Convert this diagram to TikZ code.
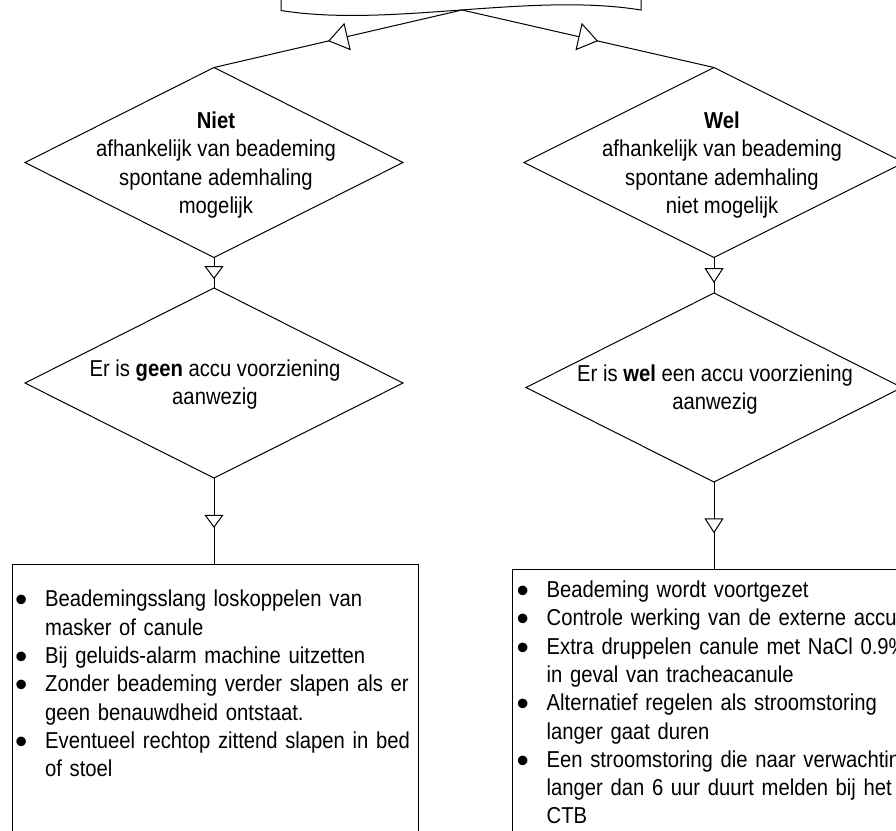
\documentclass[tikz,border=0pt]{standalone}
\usepackage{fontspec}
\setmainfont{Liberation Sans}[FakeStretch=0.88]
\newfontfamily\bulfont{Liberation Sans}
\usetikzlibrary{arrows.meta,decorations.markings,shapes.geometric}
\newcommand{\bul}[1]{\noindent\hangindent=30pt\hangafter=1\makebox[30pt][l]{\bulfont\fontsize{35}{28.3}\selectfont\raisebox{-4.9pt}{•}}#1\par}
\tikzset{
  ln/.style={line width=1pt},
  dia/.style={draw, shape=diamond, minimum width=378pt, minimum height=190pt, inner sep=0pt, outer sep=0pt, line width=1pt},
  boxnode/.style={draw, rectangle, inner sep=0pt, outer sep=0pt, line width=1pt, anchor=north west},
  txt/.style={font=\fontsize{23}{28.3}\selectfont, align=center, inner sep=0pt, anchor=north},
  lst/.style={font=\fontsize{23}{28.3}\selectfont, text width=500pt, align=left, inner sep=0pt, anchor=north west},
  midarrow/.style n args={3}{postaction={decorate}, decoration={markings, mark=at position #1 with {\arrow{Triangle[fill=white,length=#2,width=#3]}}}}
}
\begin{document}
\begin{tikzpicture}[x=1pt,y=-1pt]
\useasboundingbox (0,0) rectangle (896,830);
\clip (0,0) rectangle (896,830);
% document shape at the top
\draw[ln] (281,-30) -- (281,10.5) .. controls (390,28) and (530,-8) .. (641,10) -- (641,-30) -- cycle;
\coordinate (docb) at (462,10);
% diamonds
\node[dia] (n1) at (214,162.5) {};
\node[dia, minimum width=380pt] (w1) at (714,162.5) {};
\node[dia] (n2) at (214,383) {};
\node[dia, minimum width=376pt, minimum height=189pt] (w2) at (714,387.5) {};
% diamond texts
\node[txt] (n1t) at (216,111.8) {\textbf{Niet}\\afhankelijk van beademing\\spontane ademhaling\\mogelijk};
\node[txt] (w1t) at (722,111.8) {\textbf{Wel}\\afhankelijk van beademing\\spontane ademhaling\\niet mogelijk};
\node[txt] (n2t) at (215,359.5) {Er is \textbf{geen} accu voorziening\\aanwezig};
\node[txt] (w2t) at (715,364.2) {Er is \textbf{wel} een accu voorziening\\aanwezig};
% boxes
\node[boxnode, minimum width=406pt, minimum height=300pt] (nb) at (12,564) {};
\node[boxnode, minimum width=404pt, minimum height=300pt] (wb) at (512,569) {};
\node[lst] (nbt) at (15,590) {%
\bul{Beademingsslang loskoppelen van\newline masker of canule}%
\bul{Bij geluids-alarm machine uitzetten}%
\bul{Zonder beademing verder slapen als er\newline geen benauwdheid ontstaat.}%
\bul{Eventueel rechtop zittend slapen in bed\newline of stoel}};
\node[lst] (wbt) at (516.5,580.7) {%
\bul{Beademing wordt voortgezet}%
\bul{Controle werking van de externe accu}%
\bul{Extra druppelen canule met NaCl 0.9\%\newline in geval van tracheacanule}%
\bul{Alternatief regelen als stroomstoring\newline langer gaat duren}%
\bul{Een stroomstoring die naar verwachting\newline langer dan 6 uur duurt melden bij het\newline CTB}};
% connectors
\draw[ln, midarrow={0.54}{20pt}{28pt}] (docb) -- (n1.north);
\draw[ln, midarrow={0.54}{20pt}{28pt}] (docb) -- (w1.north);
\draw[ln, midarrow={0.71}{13pt}{19pt}] (n1.south) -- (n2.north);
\draw[ln, midarrow={0.72}{15pt}{19pt}] (w1.south) -- (w2.north);
\draw[ln, midarrow={0.58}{13pt}{19pt}] (n2.south) -- (n2.south |- nb.north);
\draw[ln, midarrow={0.59}{15pt}{19pt}] (w2.south) -- (w2.south |- wb.north);
\end{tikzpicture}
\end{document}
